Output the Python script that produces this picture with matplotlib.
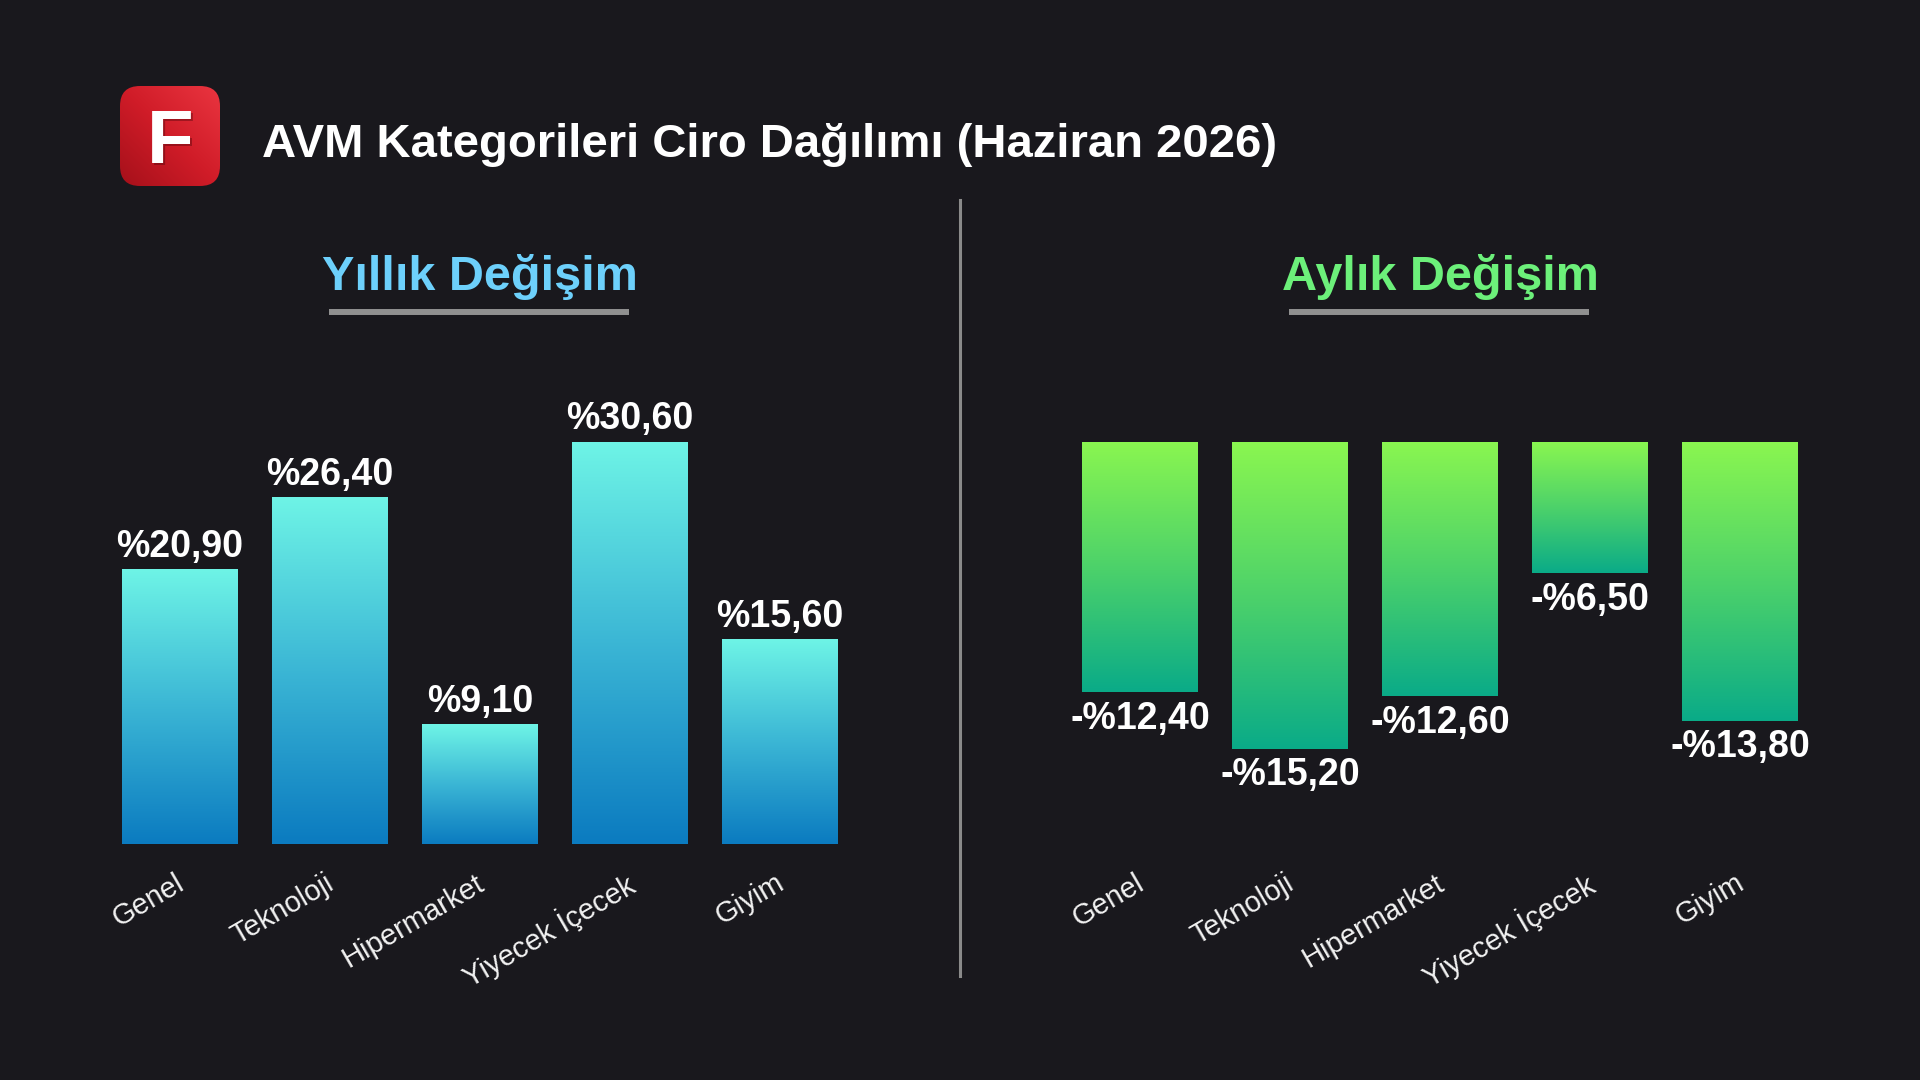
import numpy as np
import matplotlib
matplotlib.use("Agg")
import matplotlib.pyplot as plt
import matplotlib.transforms as mtransforms
from matplotlib.colors import LinearSegmentedColormap
from matplotlib.patches import FancyBboxPatch
from matplotlib.lines import Line2D

# Data
categories = ["Genel", "Teknoloji", "Hipermarket", "Yiyecek İçecek", "Giyim"]
yearly_change = [20.9, 26.4, 9.1, 30.6, 15.6]
monthly_change = [-12.4, -15.2, -12.6, -6.5, -13.8]

title = "AVM Kategorileri Ciro Dağılımı (Haziran 2026)"
left_title = "Yıllık Değişim"
right_title = "Aylık Değişim"

BG = "#19181d"
W, H = 1920, 1080

plt.rcParams['font.family'] = ['Liberation Sans', 'DejaVu Sans']

fig = plt.figure(figsize=(19.2, 10.8), dpi=100, facecolor=BG)


def fx(x):
    return x / W


def fy(y):
    return 1 - y / H


def fmt(v):
    s = f"%{abs(v):.2f}".replace(".", ",")
    return "-" + s if v < 0 else s


# gradient colormaps (bottom -> top)
blue_cmap = LinearSegmentedColormap.from_list("blu", ["#0b7bc0", "#3bb6d5", "#6ef4e6"])
green_cmap = LinearSegmentedColormap.from_list("grn", ["#0aab88", "#4dd26a", "#8af650"])


def gradient_bars(ax, bars, cmap):
    grad = np.linspace(0, 1, 256).reshape(-1, 1)
    for b in bars:
        x0, y0 = b.get_x(), b.get_y()
        w, h = b.get_width(), b.get_height()
        y_lo, y_hi = min(y0, y0 + h), max(y0, y0 + h)
        b.set_facecolor("none")
        b.set_edgecolor("none")
        im = ax.imshow(grad, extent=[x0, x0 + w, y_lo, y_hi], origin="lower",
                       cmap=cmap, aspect="auto", interpolation="bicubic", zorder=2)
        im.set_clip_path(b)


def style_axis(ax):
    ax.set_facecolor("none")
    for s in ax.spines.values():
        s.set_visible(False)
    ax.set_yticks([])
    ax.set_xticks(range(len(categories)))
    ax.set_xticklabels(categories, rotation=30, ha="right", rotation_mode="anchor",
                       fontsize=21, color="#f2f2f2")
    ax.tick_params(axis="x", length=0, pad=18)
    # nudge labels a little to the left
    shift = mtransforms.ScaledTranslation(-5 / 100, 0, fig.dpi_scale_trans)
    for lab in ax.get_xticklabels():
        lab.set_transform(lab.get_transform() + shift)
    ax.set_xlim(-0.5, len(categories) - 0.5)


# layout in pixels
base_y = 844
zero_y = 442
s_left = (base_y - zero_y) / 30.6
s_right = (749 - zero_y) / 15.2

# left chart
left_top = 36
ax1 = fig.add_axes([fx(105), fy(base_y), fx(750), left_top * s_left / H])
bars1 = ax1.bar(range(len(categories)), yearly_change, width=0.77)
gradient_bars(ax1, bars1, blue_cmap)
style_axis(ax1)
ax1.set_ylim(0, left_top)
for i, v in enumerate(yearly_change):
    ax1.annotate(fmt(v), (i, v), xytext=(0, 9), textcoords="offset points",
                 ha="center", va="baseline", fontsize=27, fontweight="bold", color="white")

# right chart
right_low = -(base_y - zero_y) / s_right
ax2 = fig.add_axes([fx(1065), fy(base_y), fx(750), (base_y - zero_y) / H])
bars2 = ax2.bar(range(len(categories)), monthly_change, width=0.77)
gradient_bars(ax2, bars2, green_cmap)
style_axis(ax2)
ax2.set_ylim(right_low, 0)
for i, v in enumerate(monthly_change):
    ax2.annotate(fmt(v), (i, v), xytext=(0, -6), textcoords="offset points",
                 ha="center", va="top", fontsize=27, fontweight="bold", color="white")

# subtitles with underline
fig.text(fx(480), fy(290), left_title, ha="center", va="baseline",
         fontsize=35, fontweight="bold", color="#6dd0fb")
fig.text(fx(1440), fy(290), right_title, ha="center", va="baseline",
         fontsize=35, fontweight="bold", color="#6cf07a")
for x0, x1 in [(329, 629), (1289, 1589)]:
    fig.add_artist(Line2D([fx(x0), fx(x1)], [fy(312), fy(312)], color="#909090",
                          lw=4.3, solid_capstyle="butt"))

# divider
fig.add_artist(Line2D([fx(960), fx(960)], [fy(200), fy(976)], color="#8a8a8a", lw=2.2))

# title
fig.text(fx(262), fy(157), title, ha="left", va="baseline",
         fontsize=34, fontweight="bold", color="white")

# logo
lax = fig.add_axes([fx(120), fy(186), fx(100), 100 / H])
lax.set_xlim(0, 1)
lax.set_ylim(0, 1)
lax.axis("off")
box = FancyBboxPatch((0, 0), 1, 1, boxstyle="round,pad=0,rounding_size=0.2",
                     facecolor="none", edgecolor="none", transform=lax.transData)
lax.add_patch(box)
xx, yy = np.meshgrid(np.linspace(0, 1, 200), np.linspace(0, 1, 200))
red_cmap = LinearSegmentedColormap.from_list("red", ["#a5101a", "#d01c28", "#ea3540"])
logo_im = lax.imshow((xx + yy) / 2, extent=[0, 1, 0, 1], origin="lower", cmap=red_cmap,
                     interpolation="bicubic")
logo_im.set_clip_path(box)
lax.text(0.525, 0.215, "F", ha="center", va="baseline", fontsize=55, fontweight="bold",
         color="#3a0005", alpha=0.35)
lax.text(0.5, 0.23, "F", ha="center", va="baseline", fontsize=55, fontweight="bold",
         color="white")

fig.savefig("out.png", dpi=100, facecolor=BG)
